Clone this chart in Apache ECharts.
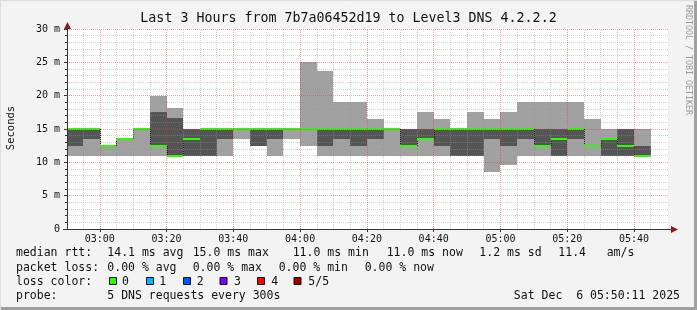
<!DOCTYPE html>
<html><head><meta charset="utf-8">
<script src="https://cdn.jsdelivr.net/npm/echarts@6/dist/echarts.min.js"></script>
<style>html,body{margin:0;padding:0;background:#f3f3f3}#c{width:697px;height:310px}</style>
</head><body><div id="c"></div>
<script>
// 5-minute steps (start times)
const stepStarts = ['02:50','02:55','03:00','03:05','03:10','03:15','03:20','03:25','03:30','03:35',
  '03:40','03:45','03:50','03:55','04:00','04:05','04:10','04:15','04:20','04:25',
  '04:30','04:35','04:40','04:45','04:50','04:55','05:00','05:05','05:10','05:15',
  '05:20','05:25','05:30','05:35','05:40'];
// sorted pings per step (ms): ping1 = lowest ... ping5 = highest, ping3 = median
const ping1 = [11,11,11,11,11,11,11,11,11,11,13.5,12.5,11,13.5,12.5,11,11,11,11,11,11,11,11,11,11,8.5,9.6,11,11,11,11,11,11,11,11];
const ping2 = [12.5,13.5,12.5,13.5,15,12.5,11,11,11,13.5,15,12.5,13.5,15,15,12.5,13.5,12.5,13.5,15,12.5,13.5,12.5,11,11,13.5,12.5,13.5,12.5,11,13.5,12.5,11,11,11];
const ping3 = [15,15,12.5,13.5,15,12.5,11,13.5,15,15,15,15,15,15,15,15,15,15,15,15,12.5,13.5,15,15,15,15,15,15,12.5,13.5,15,12.5,13.5,12.5,11];
const ping4 = [15,15,12.5,13.5,15,17.5,16.6,15,15,15,15,15,15,15,15,15,15,15,15,15,15,15,15,15,15,15,15,15,15,15,15,12.5,13.5,15,12.5];
const ping5 = [15,15,12.5,13.5,15,20,18.2,15,15,15,15,15,15,15,25,23.7,19,19,16.5,15,15,17.5,16.5,15,17.5,16.5,17.5,19,19,19,19,16.5,15,15,15];
const stepLength = 5; // minutes
const rangeStart = '02:50:11', rangeEnd = '05:50:11';
const xTickLabels = ['03:00','03:20','03:40','04:00','04:20','04:40','05:00','05:20','05:40'];
const yTicks = [0,5,10,15,20,25,30];

const FONT = '"DejaVu Sans Mono", monospace';
function toMin(s){const p=s.split(':').map(Number);return p[0]*60+p[1]+(p[2]||0)/60;}
const xMin = toMin(rangeStart), xMax = toMin(rangeEnd);
const data = stepStarts.map((s,i)=>[toMin(s), toMin(s)+stepLength, ping1[i], ping2[i], ping3[i], ping4[i], ping5[i], i>0?ping3[i-1]:ping3[i]]);
const majorX = xTickLabels.map(toMin);
const minorX = stepStarts.slice(1).map(toMin).concat([toMin('05:45')]).filter(v=>majorX.indexOf(v)<0);

const chart = echarts.init(document.getElementById('c'), null, {renderer:'canvas'});
const minorStyle = {color:'rgba(150,150,150,0.45)', width:1, type:[1,1]};
const majorStyle = {color:'rgba(225,50,50,0.45)', width:1, type:[1,1]};

function txt(text,x,y,opt){return Object.assign({type:'text',silent:true,style:{text:text,x:x,y:y,font:'11.5px '+FONT,fill:'#111',verticalAlign:'middle'}},opt||{});}
const legend = [
  ['median rtt:',16,253.5],['14.1 ms avg',107.3,253.5],['15.0 ms max',192.7,253.5],['11.0 ms min',292.7,253.5],
  ['11.0 ms now',386.7,253.5],['1.2 ms sd',479.3,253.5],['11.4',558.3,253.5],['am/s',606.7,253.5],
  ['packet loss:',16,268],['0.00 % avg',107.3,268],['0.00 % max',192.7,268],['0.00 % min',278.7,268],['0.00 % now',364.7,268],
  ['loss color:',16,282],['0',122,282],['1',159.3,282],['2',196.7,282],['3',234,282],['4',271.3,282],['5/5',308.3,282],
  ['probe:',16,296.5],['5 DNS requests every 300s',107.3,296.5]
];
const lossBoxes = [[109,'#26ff00'],[146,'#00b8ff'],[183,'#0059ff'],[219.5,'#7e00ff'],[257,'#ff0000'],[293.5,'#a00000']];
const graphics = [
  {type:'rect',silent:true,shape:{x:0,y:0,width:697,height:310},style:{fill:'#f3f3f3'},z:-10},
  {type:'line',silent:true,shape:{x1:0,y1:308.5,x2:697,y2:308.5},style:{stroke:'#a0a0a0',lineWidth:3}},
  {type:'line',silent:true,shape:{x1:695.5,y1:0,x2:695.5,y2:310},style:{stroke:'#a0a0a0',lineWidth:3}},
  {type:'line',silent:true,shape:{x1:0,y1:0.5,x2:697,y2:0.5},style:{stroke:'#dcdcdc',lineWidth:1}},
  {type:'line',silent:true,shape:{x1:0.5,y1:0,x2:0.5,y2:310},style:{stroke:'#dcdcdc',lineWidth:1}},
  txt('Last 3 Hours from 7b7a06452d19 to Level3 DNS 4.2.2.2',348.5,19,{style:{text:'Last 3 Hours from 7b7a06452d19 to Level3 DNS 4.2.2.2',x:348.5,y:19,font:'13.3px '+FONT,fill:'#111',align:'center',verticalAlign:'middle'}}),
  {type:'text',silent:true,rotation:Math.PI/2,x:11,y:128,style:{text:'Seconds',x:0,y:0,font:'10.5px '+FONT,fill:'#111',align:'center',verticalAlign:'middle'}},
  {type:'text',silent:true,rotation:-Math.PI/2,x:688,y:60,style:{text:'RRDTOOL / TOBI OETIKER',x:0,y:0,font:'8.3px '+FONT,fill:'#9a9a9a',align:'center',verticalAlign:'middle'}},
  // axis extensions + arrows
  {type:'line',silent:true,shape:{x1:67.5,y1:229,x2:67.5,y2:24},style:{stroke:'#333',lineWidth:1},z:10},
  {type:'polygon',silent:true,shape:{points:[[64,29],[71,29],[67.5,22]]},style:{fill:'#8b1a1a'},z:11},
  {type:'line',silent:true,shape:{x1:63,y1:229.5,x2:672,y2:229.5},style:{stroke:'#333',lineWidth:1},z:10},
  {type:'polygon',silent:true,shape:{points:[[671,226],[671,233],[678,229.5]]},style:{fill:'#8b1a1a'},z:11},
  txt('Sat Dec  6 05:50:11 2025',680,296.5,{style:{text:'Sat Dec  6 05:50:11 2025',x:680,y:296.5,font:'11.5px '+FONT,fill:'#111',align:'right',verticalAlign:'middle'}})
];
legend.forEach(l=>graphics.push(txt(l[0],l[1],l[2])));
lossBoxes.forEach(b=>graphics.push({type:'rect',silent:true,shape:{x:b[0]+0.5,y:277.5,width:7,height:7},style:{fill:b[1],stroke:'#111',lineWidth:1}}));

chart.setOption({
  animation:false,
  backgroundColor:'#f3f3f3',
  grid:{left:67,right:29,top:29,bottom:81,backgroundColor:'#ffffff',show:true,borderWidth:0},
  xAxis:{type:'value',min:xMin,max:xMax,z:5,
    axisLine:{show:false},
    axisTick:{show:true,length:3,lineStyle:{color:'#333'},customValues:majorX},
    axisLabel:{customValues:majorX,margin:5,fontFamily:'DejaVu Sans Mono',fontSize:10,color:'#111',
      formatter:v=>{const h=Math.floor(v/60),m=Math.round(v%60);return String(h).padStart(2,'0')+':'+String(m).padStart(2,'0');}},
    splitLine:{show:false}},
  yAxis:{type:'value',min:0,max:30,interval:5,z:5,
    axisLine:{show:false},
    axisTick:{show:true,length:3,lineStyle:{color:'#333'}},
    minorTick:{show:true,splitNumber:5,length:2,lineStyle:{color:'#333'}},
    axisLabel:{margin:7,fontFamily:'DejaVu Sans Mono',fontSize:10,color:'#111',formatter:v=>v===0?'0':v+' m'},
    splitLine:{show:true,lineStyle:majorStyle},
    minorSplitLine:{show:true,lineStyle:minorStyle}},
  graphic:graphics,
  series:[{
    type:'custom',
    data:data,
    clip:true,
    z:2,
    renderItem:(params,api)=>{
      const s=Math.max(api.value(0),xMin), e=Math.min(api.value(1),xMax);
      const x0=Math.round(api.coord([s,0])[0]), x1=Math.round(api.coord([e,0])[0]);
      const y=v=>Math.round(api.coord([s,v])[1]);
      const p1=api.value(2),p2=api.value(3),p3=api.value(4),p4=api.value(5),p5=api.value(6),prev=api.value(7);
      const ch=[
        {type:'rect',shape:{x:x0,y:y(p5),width:x1-x0,height:y(p1)-y(p5)},style:{fill:'#a1a1a1'}},
        {type:'rect',shape:{x:x0,y:y(p4),width:x1-x0,height:y(p2)-y(p4)},style:{fill:'#555555'}}
      ];
      if(prev!==p3 && params.dataIndex>0){
        ch.push({type:'line',shape:{x1:x0+0.5,y1:y(prev),x2:x0+0.5,y2:y(p3)},style:{stroke:'#222',lineWidth:1,lineDash:[1,1]}});
      }
      ch.push({type:'line',shape:{x1:x0,y1:y(p3),x2:x1,y2:y(p3)},style:{stroke:'#26ff00',lineWidth:2}});
      return {type:'group',children:ch};
    },
    markLine:{silent:true,symbol:'none',label:{show:false},animation:false,z:6,
      data:minorX.map(v=>({xAxis:v,lineStyle:minorStyle})).concat(majorX.map(v=>({xAxis:v,lineStyle:majorStyle})))}
  }]
});
</script></body></html>
